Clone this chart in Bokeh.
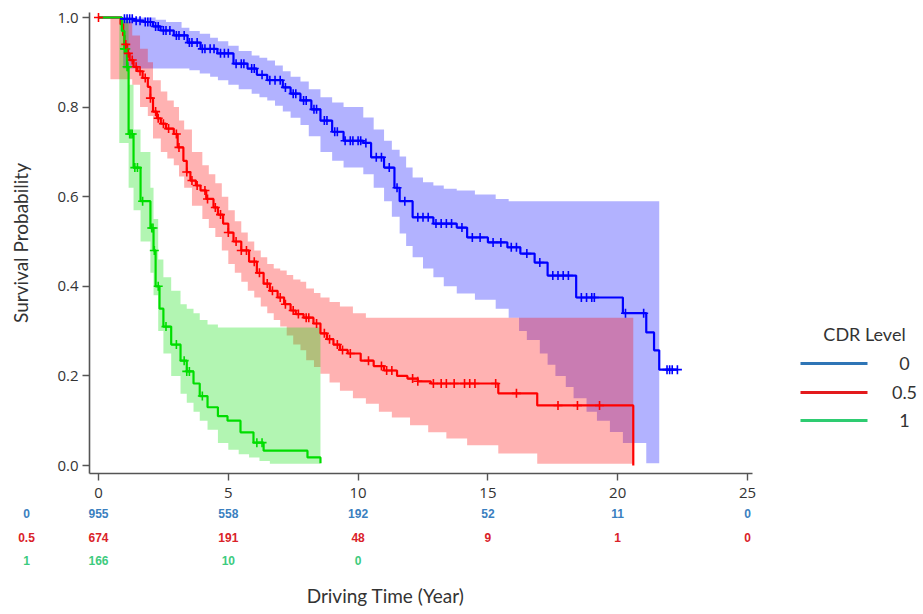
import numpy as np
from bokeh.plotting import figure
from bokeh.models import Range1d, FixedTicker, PrintfTickFormatter
from bokeh.core.properties import value
from bokeh.embed import file_html
from bokeh.resources import INLINE

# ---------------- data ----------------
groups = ["0", "0.5", "1"]

# CDR 0 : Kaplan-Meier step curve
cdr0_t = [0, 0.9, 1.35, 1.73, 2.1, 2.39, 2.9, 3.43, 3.93, 4.58, 5.2, 5.74, 6.1, 6.5, 7.1, 7.4, 7.78, 8.2,
          8.55, 9.0, 9.44, 10.2, 10.5, 11.0, 11.4, 11.6, 12.1, 12.9, 13.8, 14.2, 15.0, 15.75, 16.25, 16.8,
          17.3, 18.4, 20.2, 21.1, 21.4, 21.6, 22.3]
cdr0_s = [1.0, 0.997, 0.993, 0.99, 0.98, 0.971, 0.96, 0.944, 0.93, 0.92, 0.897, 0.886, 0.872, 0.86, 0.844,
          0.83, 0.815, 0.795, 0.77, 0.745, 0.725, 0.72, 0.688, 0.665, 0.62, 0.59, 0.554, 0.54, 0.531, 0.509,
          0.498, 0.487, 0.473, 0.453, 0.424, 0.375, 0.34, 0.297, 0.257, 0.214, 0.214]
cdr0_band_t = [0.95, 2.2, 2.6, 3.2, 3.5, 3.9, 4.3, 4.6, 5.0, 5.4, 5.9, 6.2, 6.5, 6.8, 7.1, 7.4, 7.78, 8.1,
               8.55, 9.0, 9.44, 10.2, 10.6, 11.0, 11.3, 11.6, 11.85, 12.1, 12.5, 12.9, 13.3, 13.8, 14.5,
               15.3, 15.8, 16.2, 16.5, 17.0, 17.3, 17.6, 18.0, 18.3, 18.8, 19.2, 19.7, 20.2, 21.1]
cdr0_band_end = 21.6
cdr0_hi = [1.0, 0.995, 0.99, 0.977, 0.97, 0.964, 0.955, 0.947, 0.937, 0.925, 0.915, 0.91, 0.904, 0.893,
           0.88, 0.868, 0.857, 0.84, 0.822, 0.81, 0.80, 0.777, 0.75, 0.725, 0.705, 0.69, 0.665, 0.643, 0.632,
           0.625, 0.618, 0.614, 0.605, 0.595, 0.59, 0.59, 0.59, 0.59, 0.59, 0.59, 0.59, 0.59, 0.59, 0.59,
           0.59, 0.59, 0.59]
cdr0_lo = [0.886, 0.886, 0.886, 0.886, 0.882, 0.875, 0.868, 0.86, 0.85, 0.84, 0.83, 0.822, 0.815, 0.803,
           0.79, 0.776, 0.76, 0.735, 0.70, 0.68, 0.665, 0.65, 0.62, 0.59, 0.555, 0.518, 0.49, 0.465, 0.44,
           0.42, 0.40, 0.384, 0.37, 0.35, 0.33, 0.30, 0.28, 0.25, 0.225, 0.20, 0.175, 0.15, 0.12, 0.10,
           0.075, 0.05, 0.005]
cdr0_cens = [1.0, 1.1, 1.2, 1.3, 1.45, 1.6, 1.8, 1.9, 2.0, 2.2, 2.3, 2.5, 2.6, 2.75, 3.0, 3.1, 3.3, 3.5, 3.6,
             3.8, 4.0, 4.1, 4.3, 4.45, 4.7, 4.85, 5.0, 5.3, 5.5, 5.6, 5.9, 6.0, 6.3, 6.6, 6.8, 7.0, 7.2, 7.5,
             7.6, 7.9, 8.0, 8.3, 8.4, 8.7, 8.8, 9.1, 9.2, 9.5, 9.7, 9.8, 10.0, 10.1, 10.3, 10.7, 10.9, 11.2,
             11.5, 11.8, 12.3, 12.5, 12.7, 13.0, 13.2, 13.4, 13.6, 14.0, 14.4, 14.7, 15.2, 15.5, 15.9, 16.1,
             16.5, 17.0, 17.5, 17.7, 17.9, 18.1, 18.6, 18.8, 19.0, 19.1, 20.3, 21.0, 21.9, 22.0, 22.1, 22.3]

# CDR 0.5
cdr05_t = [0, 0.85, 0.95, 1.0, 1.1, 1.2, 1.35, 1.5, 1.7, 1.9, 2.0, 2.1, 2.25, 2.4, 2.6, 2.9, 3.05, 3.27,
           3.4, 3.54, 3.75, 3.93, 4.15, 4.43, 4.6, 4.8, 5.0, 5.2, 5.5, 5.8, 6.1, 6.36, 6.6, 6.9, 7.15, 7.4,
           7.6, 7.9, 8.28, 8.55, 8.8, 9.05, 9.3, 9.6, 10.1, 10.6, 11.0, 11.5, 11.9, 12.3, 12.8, 15.4, 16.9,
           20.6]
cdr05_s = [1.0, 0.985, 0.96, 0.94, 0.92, 0.905, 0.89, 0.88, 0.865, 0.845, 0.82, 0.79, 0.775, 0.763, 0.752,
           0.74, 0.71, 0.68, 0.655, 0.636, 0.625, 0.614, 0.595, 0.576, 0.56, 0.54, 0.52, 0.50, 0.48, 0.455,
           0.43, 0.406, 0.39, 0.375, 0.36, 0.346, 0.338, 0.33, 0.317, 0.295, 0.282, 0.27, 0.258, 0.25,
           0.234, 0.222, 0.212, 0.2, 0.194, 0.188, 0.183, 0.161, 0.134, 0.0]
cdr05_band_t = [0.46, 1.0, 1.3, 1.6, 1.9, 2.1, 2.4, 2.65, 2.9, 3.1, 3.3, 3.6, 4.0, 4.25, 4.5, 4.75, 5.0,
                5.25, 5.5, 5.75, 6.0, 6.25, 6.5, 6.75, 7.0, 7.25, 7.5, 7.78, 8.0, 8.3, 8.55, 8.9, 9.3, 9.8,
                10.3, 10.8, 11.3, 12.0, 12.7, 13.4, 14.2, 15.4, 16.9]
cdr05_band_end = 20.6
cdr05_hi = [1.0, 0.99, 0.96, 0.93, 0.90, 0.86, 0.835, 0.815, 0.80, 0.77, 0.75, 0.70, 0.67, 0.65, 0.63, 0.60,
            0.57, 0.545, 0.52, 0.50, 0.48, 0.465, 0.45, 0.44, 0.435, 0.425, 0.415, 0.41, 0.395, 0.385, 0.375,
            0.365, 0.355, 0.34, 0.33, 0.33, 0.33, 0.33, 0.33, 0.33, 0.33, 0.33, 0.33]
cdr05_lo = [0.862, 0.862, 0.85, 0.80, 0.78, 0.73, 0.70, 0.685, 0.67, 0.645, 0.62, 0.58, 0.55, 0.53, 0.51,
            0.48, 0.45, 0.43, 0.41, 0.39, 0.375, 0.355, 0.34, 0.325, 0.31, 0.29, 0.27, 0.257, 0.235, 0.22,
            0.205, 0.185, 0.167, 0.15, 0.138, 0.12, 0.107, 0.09, 0.074, 0.06, 0.045, 0.027, 0.004]
cdr05_cens = [0.0, 1.05, 1.15, 1.3, 1.45, 1.6, 1.8, 2.0, 2.2, 2.3, 2.5, 2.7, 3.0, 3.1, 3.4, 3.6, 3.8, 4.1,
              4.2, 4.5, 4.7, 5.0, 5.3, 5.5, 5.7, 6.0, 6.2, 6.5, 6.7, 7.0, 7.2, 7.5, 7.7, 8.0, 8.1, 8.4, 8.7,
              8.9, 9.2, 9.4, 9.7, 10.4, 10.9, 11.1, 11.3, 12.1, 12.3, 12.9, 13.2, 13.4, 13.7, 14.1, 14.3,
              14.5, 15.3, 16.1, 17.7, 18.45, 19.3]

# CDR 1
cdr1_t = [0, 0.9, 1.0, 1.1, 1.16, 1.35, 1.62, 2.0, 2.12, 2.2, 2.35, 2.5, 2.8, 3.16, 3.4, 3.66, 3.9, 4.2,
          4.6, 4.97, 5.47, 5.97, 6.36, 8.05, 8.55]
cdr1_s = [1.0, 0.97, 0.93, 0.89, 0.74, 0.665, 0.59, 0.53, 0.48, 0.40, 0.35, 0.31, 0.27, 0.234, 0.21, 0.183,
          0.155, 0.13, 0.11, 0.10, 0.074, 0.051, 0.033, 0.018, 0.005]
cdr1_band_t = [0.8, 1.16, 1.35, 1.62, 2.0, 2.12, 2.3, 2.5, 2.8, 3.16, 3.4, 3.66, 3.9, 4.2, 4.6, 5.0, 5.4,
               5.8, 6.2, 6.6]
cdr1_band_end = 8.55
cdr1_hi = [1.0, 0.85, 0.75, 0.70, 0.62, 0.55, 0.46, 0.42, 0.39, 0.36, 0.35, 0.34, 0.325, 0.315, 0.308,
           0.308, 0.308, 0.308, 0.308, 0.308]
cdr1_lo = [0.72, 0.62, 0.57, 0.50, 0.43, 0.38, 0.30, 0.25, 0.20, 0.16, 0.14, 0.12, 0.10, 0.08, 0.05, 0.035,
           0.025, 0.018, 0.01, 0.004]
cdr1_cens = [1.0, 1.05, 1.1, 1.13, 1.2, 1.25, 1.3, 1.4, 1.5, 1.7, 2.05, 2.1, 2.15, 2.3, 2.6, 3.0, 3.3, 3.4,
             3.5, 4.0, 6.1, 6.3]

# number at risk table
risk_times = [0, 5, 10, 15, 20, 25]
risk_cdr0 = [955, 558, 192, 52, 11, 0]
risk_cdr05 = [674, 191, 48, 9, 1, 0]
risk_cdr1 = [166, 10, 0]

x_ticks = [0, 5, 10, 15, 20, 25]
y_ticks = [0.0, 0.2, 0.4, 0.6, 0.8, 1.0]

# ---------------- styling ----------------
curve_colors = ["#0000FF", "#FF0000", "#00DD00"]
key_colors = ["#2E75B6", "#E31A1C", "#2ECC71"]
table_colors = ["#3A80C0", "#DA2229", "#3DCB7E"]
TXT = "#333333"

# reference-pixel geometry helpers (layout only)
X0_PX, PX_PER_YEAR = 98.0, 25.96
Y0_PX, PX_PER_UNIT = 465.0, 448.0
W, H = 918, 610


def xd(px):
    return (px - X0_PX) / PX_PER_YEAR


def yd(py):
    return (Y0_PX - py) / PX_PER_UNIT


def step_poly(t, v, t_end):
    t = np.asarray(t, float)
    v = np.asarray(v, float)
    xs = np.empty(2 * len(t))
    xs[0::2] = t
    xs[1::2] = np.append(t[1:], t_end)
    return xs, np.repeat(v, 2)


def value_at(t, s, c):
    idx = np.searchsorted(np.asarray(t, float), np.asarray(c, float), side="right") - 1
    return np.asarray(s, float)[np.clip(idx, 0, None)]


p = figure(width=W, height=H, output_backend="svg", toolbar_location=None,
           x_range=Range1d(xd(0), xd(W)), y_range=Range1d(yd(H), yd(0)),
           min_border_left=0, min_border_right=0, min_border_top=0, min_border_bottom=0)
p.outline_line_color = None
p.grid.visible = False
p.background_fill_color = "white"
p.border_fill_color = "white"

bands = [(cdr0_band_t, cdr0_lo, cdr0_hi, cdr0_band_end),
         (cdr05_band_t, cdr05_lo, cdr05_hi, cdr05_band_end),
         (cdr1_band_t, cdr1_lo, cdr1_hi, cdr1_band_end)]
for (bt, lo, hi, be), col in zip(bands, curve_colors):
    xs, ylo = step_poly(bt, lo, be)
    _, yhi = step_poly(bt, hi, be)
    p.varea(x=xs, y1=ylo, y2=yhi, fill_color=col, fill_alpha=0.3)

curves = [(cdr0_t, cdr0_s), (cdr05_t, cdr05_s), (cdr1_t, cdr1_s)]
for (ct, cs), col in zip(curves, curve_colors):
    p.step(x=ct, y=cs, mode="after", line_color=col, line_width=2.2)

cens = [cdr0_cens, cdr05_cens, cdr1_cens]
for i in [0, 2, 1]:
    ct, cs = curves[i]
    p.scatter(x=cens[i], y=value_at(ct, cs, cens[i]), marker="cross", size=9,
              line_color=curve_colors[i], line_width=1.6)

# axes, drawn at fixed places inside the full-size frame
p.xaxis.fixed_location = yd(473)
p.yaxis.fixed_location = xd(89)
p.xaxis.ticker = FixedTicker(ticks=x_ticks)
p.xaxis.bounds = (xd(89), xd(752))
p.yaxis.ticker = FixedTicker(ticks=y_ticks)
p.yaxis.bounds = (yd(473), yd(12))
p.yaxis.formatter = PrintfTickFormatter(format="%.1f")
for ax in [p.xaxis[0], p.yaxis[0]]:
    ax.axis_line_color = "#555555"
    ax.axis_line_width = 1.6
    ax.major_tick_line_color = "#555555"
    ax.major_tick_line_width = 1.4
    ax.major_tick_in = 0
    ax.major_tick_out = 7
    ax.minor_tick_line_color = None
    ax.major_label_text_font = "Open Sans"
    ax.major_label_text_font_size = "15px"
    ax.major_label_text_color = TXT
p.xaxis.major_label_standoff = 7
p.yaxis.major_label_standoff = 4
p.yaxis.axis_label = "Survival Probability"
p.yaxis.axis_label_text_font = "Lato"
p.yaxis.axis_label_text_font_size = "19px"
p.yaxis.axis_label_text_font_style = "normal"
p.yaxis.axis_label_text_color = TXT
p.yaxis.axis_label_standoff = 22

# key on the right
p.text(x=[xd(864)], y=[yd(333)], text=["CDR Level"], text_font=value("Lato"), text_font_size="18px",
       text_color=TXT, text_align="center", text_baseline="middle")
key_y = [yd(363), yd(392), yd(420)]
p.segment(x0=[xd(800)] * 3, x1=[xd(867)] * 3, y0=key_y, y1=key_y, line_color=key_colors, line_width=3)
p.text(x=[xd(904)] * 3, y=key_y, text=groups, text_font=value("Lato"), text_font_size="18px",
       text_color=TXT, text_align="center", text_baseline="middle")

# ---------------- number-at-risk table ----------------
row_y = [yd(513), yd(537), yd(560)]
tfont = value("Liberation Sans")
p.text(x=[xd(26)] * 3, y=row_y, text=groups, text_color=table_colors, text_font=tfont,
       text_font_size="12px", text_font_style="bold", text_align="center", text_baseline="middle")
for vals, yy, col in zip([risk_cdr0, risk_cdr05, risk_cdr1], row_y, table_colors):
    p.text(x=risk_times[:len(vals)], y=[yy] * len(vals), text=[str(v) for v in vals], text_color=col,
           text_font=tfont, text_font_size="12px", text_font_style="bold", text_align="center",
           text_baseline="middle")
p.text(x=[xd(385)], y=[yd(595)], text=["Driving Time (Year)"], text_font=value("Lato"),
       text_font_size="19px", text_color=TXT, text_align="center", text_baseline="middle")

open("out.html", "w").write(file_html(p, INLINE))
